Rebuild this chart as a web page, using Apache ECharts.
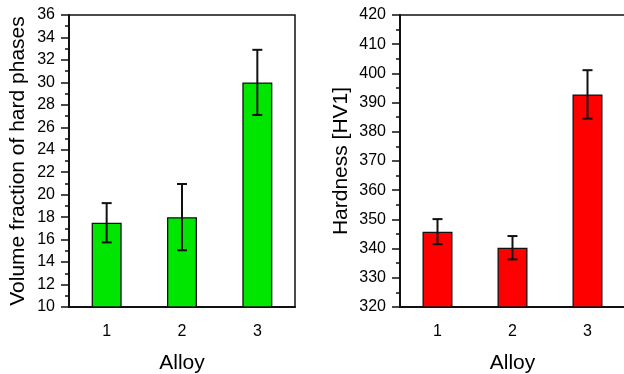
<!DOCTYPE html>
<html>
<head>
<meta charset="utf-8">
<script src="https://cdn.jsdelivr.net/npm/echarts@6/dist/echarts.min.js"></script>
<style>
html,body{margin:0;padding:0;background:#fff;}
#chart{width:624px;height:374px;}
</style>
</head>
<body>
<div id="chart"></div>
<script>
var categories = ['1', '2', '3'];
var fraction = [17.5, 18.0, 30.0];
var fractionErr = [1.75, 2.95, 2.9];
var hardness = [345.8, 340.3, 392.8];
var hardnessErr = [4.3, 4.0, 8.3];
var fractionTicks = {min: 10, max: 36, interval: 2};
var hardnessTicks = {min: 320, max: 420, interval: 10};

function errData(vals, errs) {
  return vals.map(function (v, i) { return [i, v - errs[i], v + errs[i]]; });
}
function renderErr(params, api) {
  var lo = api.coord([api.value(0), api.value(1)]);
  var hi = api.coord([api.value(0), api.value(2)]);
  var hw = 5;
  var st = {stroke: '#111', lineWidth: 2};
  return {type: 'group', children: [
    {type: 'line', shape: {x1: lo[0], y1: lo[1], x2: hi[0], y2: hi[1]}, style: st},
    {type: 'line', shape: {x1: hi[0] - hw, y1: hi[1], x2: hi[0] + hw, y2: hi[1]}, style: st},
    {type: 'line', shape: {x1: lo[0] - hw, y1: lo[1], x2: lo[0] + hw, y2: lo[1]}, style: st}
  ]};
}
var FONT = 'Liberation Sans, Arial, sans-serif';
function xAx(idx) {
  return {
    type: 'category', gridIndex: idx, data: categories,
    name: 'Alloy', nameLocation: 'middle', nameGap: 46,
    nameTextStyle: {fontFamily: FONT, fontSize: 21, color: '#000'},
    axisLine: {lineStyle: {color: '#111', width: 2}},
    axisTick: {alignWithLabel: true, length: 7, lineStyle: {color: '#111', width: 1.5}},
    axisLabel: {fontFamily: FONT, fontSize: 16, color: '#000', margin: 17},
    splitLine: {show: false}
  };
}
function yAx(idx, name, t, gap) {
  return {
    type: 'value', gridIndex: idx, min: t.min, max: t.max, interval: t.interval,
    name: name, nameLocation: 'middle', nameGap: gap,
    nameTextStyle: {fontFamily: FONT, fontSize: 21, color: '#000'},
    axisLine: {show: true, lineStyle: {color: '#111', width: 2}},
    axisTick: {show: true, length: 8, lineStyle: {color: '#111', width: 1.5}},
    minorTick: {show: true, splitNumber: 2, length: 4, lineStyle: {color: '#111', width: 1.5}},
    axisLabel: {fontFamily: FONT, fontSize: 16, color: '#000', margin: 14},
    splitLine: {show: false}
  };
}
var chart = echarts.init(document.getElementById('chart'), null, {renderer: 'canvas'});
chart.setOption({
  backgroundColor: '#fff',
  animation: false,
  grid: [
    {left: 69, top: 15, width: 226, height: 292, show: true, borderColor: '#111', borderWidth: 1.5, backgroundColor: 'transparent', containLabel: false, outerBoundsMode: 'none'},
    {left: 400, top: 15, width: 225, height: 292, show: true, borderColor: '#111', borderWidth: 1.5, backgroundColor: 'transparent', containLabel: false, outerBoundsMode: 'none'}
  ],
  xAxis: [xAx(0), xAx(1)],
  yAxis: [
    yAx(0, 'Volume fraction of hard phases', fractionTicks, 40),
    yAx(1, 'Hardness [HV1]', hardnessTicks, 48)
  ],
  series: [
    {type: 'bar', xAxisIndex: 0, yAxisIndex: 0, data: fraction, barWidth: 30,
     itemStyle: {color: '#00e600', borderColor: '#111', borderWidth: 1.3}},
    {type: 'custom', xAxisIndex: 0, yAxisIndex: 0, data: errData(fraction, fractionErr),
     renderItem: renderErr, encode: {x: 0, y: [1, 2]}, z: 5},
    {type: 'bar', xAxisIndex: 1, yAxisIndex: 1, data: hardness, barWidth: 30,
     itemStyle: {color: '#ff0000', borderColor: '#111', borderWidth: 1.3}},
    {type: 'custom', xAxisIndex: 1, yAxisIndex: 1, data: errData(hardness, hardnessErr),
     renderItem: renderErr, encode: {x: 0, y: [1, 2]}, z: 5}
  ]
});
</script>
</body>
</html>
